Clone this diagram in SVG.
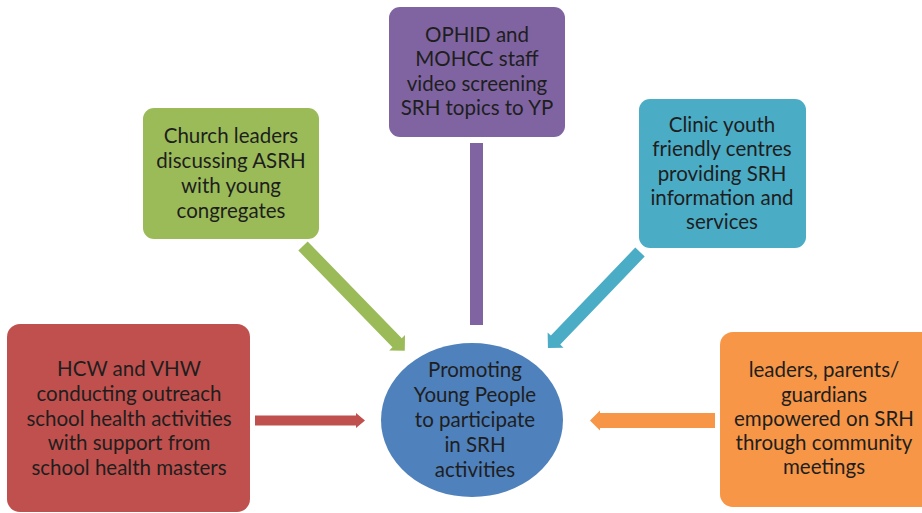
<svg xmlns="http://www.w3.org/2000/svg" width="922" height="513" viewBox="0 0 922 513">
<style>
text{font-family:Lato,"Open Sans","Liberation Sans",sans-serif;font-size:20.5px;fill:#1e1e1e;text-anchor:middle}
</style>
<rect width="922" height="513" fill="#ffffff"/>
<g id="connectors">
<polygon transform="translate(303,246) rotate(45.8)" points="0,-6.5 135,-6.5 135,-11 146,0 135,11 135,6.5 0,6.5" fill="#9BBB59"/>
<polygon transform="translate(640,252) rotate(133.8)" points="0,-6.5 122,-6.5 122,-11 133,0 122,11 122,6.5 0,6.5" fill="#4BACC6"/>
<polygon transform="translate(255,420.5)" points="0,-5 101,-5 101,-7.5 110,0 101,7.5 101,5 0,5" fill="#C0504D"/>
<polygon transform="translate(715,420.5) rotate(180)" points="0,-7.5 115,-7.5 115,-10 125,0 115,10 115,7.5 0,7.5" fill="#F79646"/>
<rect x="470" y="143" width="13" height="182" fill="#8064A2"/>
</g>
<g id="node-purple">
<rect x="389" y="7" width="176" height="130" rx="11" fill="#8064A2"/>
<text x="477" y="42">OPHID and</text>
<text x="477" y="66">MOHCC staff</text>
<text x="477" y="91">video screening</text>
<text x="477" y="115">SRH topics to YP</text>
</g>
<g id="node-green">
<rect x="143" y="108" width="176" height="131" rx="11" fill="#9BBB59"/>
<text x="231" y="143">Church leaders</text>
<text x="231" y="168">discussing ASRH</text>
<text x="231" y="193">with young</text>
<text x="231" y="218">congregates</text>
</g>
<g id="node-blue">
<rect x="639" y="99" width="167" height="149" rx="11" fill="#4BACC6"/>
<text x="722" y="132">Clinic youth</text>
<text x="722" y="156">friendly centres</text>
<text x="722" y="181">providing SRH</text>
<text x="722" y="205">information and</text>
<text x="722" y="229">services</text>
</g>
<g id="node-red">
<rect x="7" y="324" width="243" height="188" rx="13" fill="#C0504D"/>
<text x="129" y="376">HCW and VHW</text>
<text x="129" y="401">conducting outreach</text>
<text x="129" y="426">school health activities</text>
<text x="129" y="450">with support from</text>
<text x="129" y="475">school health masters</text>
</g>
<g id="node-orange">
<rect x="720" y="332" width="215" height="175" rx="13" fill="#F79646"/>
<text x="824" y="377">leaders, parents/</text>
<text x="824" y="402">guardians</text>
<text x="824" y="426">empowered on SRH</text>
<text x="824" y="450">through community</text>
<text x="824" y="474">meetings</text>
</g>
<g id="node-center">
<ellipse cx="472" cy="420" rx="91" ry="77" fill="#4F81BD"/>
<text x="475" y="377">Promoting</text>
<text x="475" y="402">Young People</text>
<text x="475" y="427">to participate</text>
<text x="475" y="452">in SRH</text>
<text x="475" y="477">activities</text>
</g>
</svg>
